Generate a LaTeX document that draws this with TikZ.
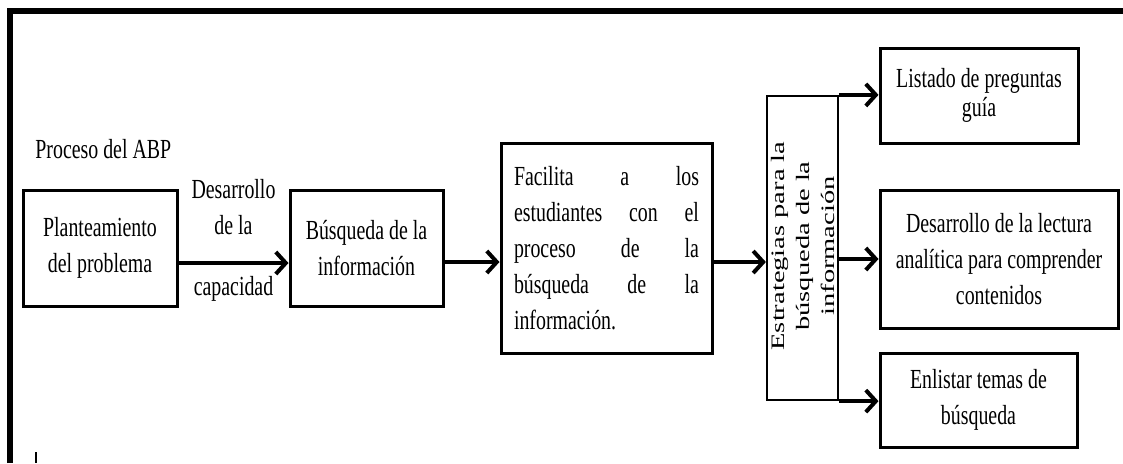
\documentclass[tikz,border=0pt]{standalone}
\usepackage{fontspec}
\setmainfont[FakeStretch=0.72]{Liberation Serif}
\newfontfamily\strfont[FakeStretch=1.5]{Liberation Serif}
\usetikzlibrary{arrows.meta,shadows}

\begin{document}
\begin{tikzpicture}[x=0.5pt,y=-0.5pt]

\def\fs{\fontsize{13.8}{18}\selectfont}
\def\drop{7.5pt}

\tikzset{box/.style = {draw, line width=1.5pt, fill=white, inner sep=2pt, align=center, font=\fs,
    drop shadow={shadow xshift=1.2pt, shadow yshift=-1.2pt, opacity=0.3}},
  stratbox/.style = {draw, line width=1.1pt, fill=white, inner sep=0pt},
  arr/.style = {line width=2pt, -{Straight Barb[length=5pt,width=11pt]}},
  lbl/.style = {inner sep=0pt, align=center, font=\fs}}

\useasboundingbox (0,0) rectangle (1123,463);

% frame
\draw[line width=3pt] (10,463) -- (10,11) -- (1123,11);
\draw[line width=0.6pt] (36,452) -- (36,463);

\node[lbl, anchor=base west] (titulo) at (35,158) {Proceso del ABP};

% main row
\node[box, minimum width=77pt, minimum height=58pt] (prob) at (100,248) {Planteamiento\\del problema};
\node[box, minimum width=76.5pt, minimum height=58pt] (busq) at (366.5,248) {Búsqueda de la\\información};
\node[box, minimum width=105.5pt, minimum height=105pt, text width=92.5pt, align=left] (facil) at (606.5,248)
  {Facilita \hfill a \hfill los\\estudiantes \hfill con \hfill el\\proceso \hfill de \hfill la\\búsqueda \hfill de \hfill la\\información.};
\node[stratbox, minimum width=35.5pt, minimum height=152pt] (estr) at (802.5,248) {};
\node[rotate=90, align=center, inner sep=0pt, font={\strfont\fontsize{9.5}{12.5}\selectfont}] (estrtxt) at (803,246)
  {Estrategias para la\\búsqueda de la\\información};

% right column
\node[box, minimum width=99pt, minimum height=47.5pt, font={\fontsize{13.8}{14.5}\selectfont}] (lista) at (979,95.5) {Listado de preguntas\\guía};
\node[box, minimum width=119pt, minimum height=69pt] (lectura) at (999,259) {Desarrollo de la lectura\\analítica para comprender\\contenidos};
\node[box, minimum width=98.5pt, minimum height=47pt] (temas) at (978.5,400) {Enlistar temas de\\búsqueda};

% arrows
\draw[arr] ([yshift=-\drop]prob.east) -- node[lbl, above=13pt] (lab1) {Desarrollo\\de la}
  node[lbl, below=5.8pt] (lab2) {capacidad} ([yshift=-\drop]busq.west);
\draw[arr] ([yshift=-7pt]busq.east) -- ([yshift=-7pt]facil.west);
\draw[arr] ([yshift=-7pt]facil.east) -- ([yshift=-7pt]estr.west);

\draw[arr] (estr.north east) -- (estr.north east -| lista.west);
\draw[arr] (estr.east |- lectura.west) -- (lectura.west);
\draw[arr] (estr.south east) -- (estr.south east -| temas.west);

\end{tikzpicture}
\end{document}
